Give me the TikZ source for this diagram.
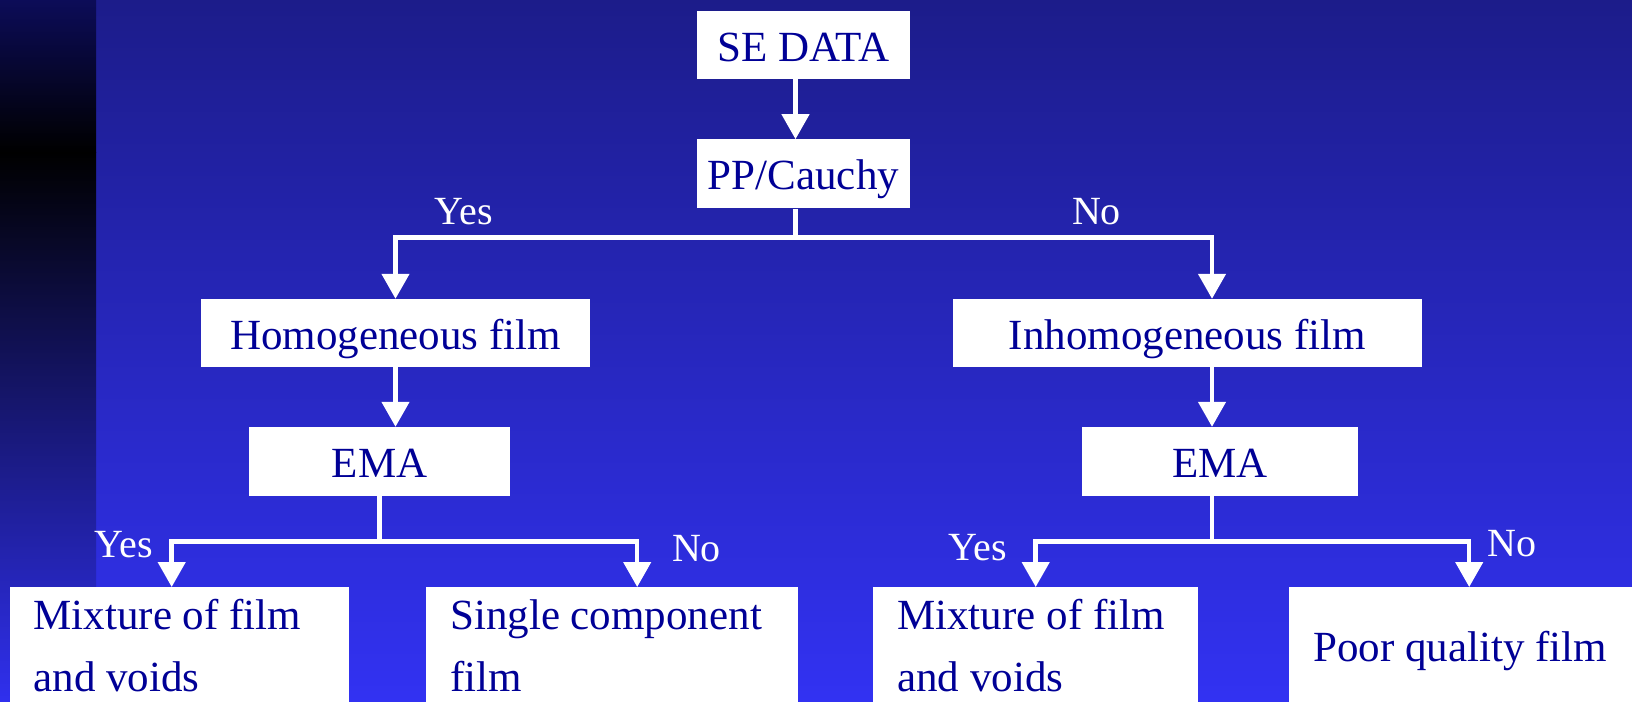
\documentclass[tikz,border=0pt]{standalone}
\usepackage{fontspec}
\setmainfont{Liberation Serif}
\usetikzlibrary{
	positioning,
	arrows.meta
}
\definecolor{SlideTop}{RGB}{28,28,138}
\definecolor{SlideBottom}{RGB}{50,50,242}
\definecolor{StripTop}{RGB}{12,12,88}
\definecolor{StripBottom}{RGB}{48,48,238}
\definecolor{InkNavy}{RGB}{0,0,150}

\tikzset{
	stepbox/.style={
		fill=white,
		text=InkNavy,
		font=\fontsize{43}{50}\selectfont,
		inner sep=0pt,
		text height=32pt,
		text depth=0pt
	},
	leafbox/.style={
		fill=white,
		text=InkNavy,
		font=\fontsize{43}{62}\selectfont,
		inner xsep=24pt,
		inner ysep=0pt,
		align=flush left,
		minimum height=116pt,
		anchor=north west
	},
	wire/.style={
		draw=white,
		line width=4.5pt
	},
	flow/.style={
		wire,
		-{Triangle[width=27pt,length=25pt]}
	},
	answer/.style={
		text=white,
		font=\fontsize{40}{48}\selectfont,
		inner sep=0pt,
		anchor=base
	}
}

\begin{document}
\begin{tikzpicture}[x=1pt,y=-1pt]
	
	% slide background
	\useasboundingbox (0,0) rectangle (1632,701);
	\shade[top color=SlideTop, bottom color=SlideBottom] (0,0) rectangle (1632,701);
	\shade[top color=StripTop, bottom color=black] (0,0) rectangle (96,152);
	\shade[top color=black, bottom color=StripBottom] (0,152) rectangle (96,701);
	
	% boxes
	\node[
	stepbox,
	minimum width=213pt,
	minimum height=68pt
	] (data) at (803.5,45) {SE DATA};
	
	\node[
	stepbox,
	minimum width=213pt,
	minimum height=69pt,
	below=60pt of data
	] (cauchy) {PP/Cauchy};
	
	\node[
	stepbox,
	minimum width=389pt,
	minimum height=68pt
	] (homog) at (395.5,333) {Homogeneous film};
	
	\node[
	stepbox,
	minimum width=469pt,
	minimum height=68pt
	] (inhomog) at (1187.5,333) {Inhomogeneous film};
	
	\node[
	stepbox,
	minimum width=261pt,
	minimum height=69pt
	] (emaL) at (379.5,461.5) {EMA};
	
	\node[
	stepbox,
	minimum width=276pt,
	minimum height=69pt
	] (emaR) at (1220,461.5) {EMA};
	
	\node[
	leafbox,
	text width=291.6pt
	] (mixL) at (9.4,587) {Mixture of film\\and voids};
	
	\node[
	leafbox,
	text width=324pt
	] (single) at (426,587) {Single component\\film};
	
	\node[
	leafbox,
	text width=277pt
	] (mixR) at (873,587) {Mixture of film\\and voids};
	
	\node[
	leafbox,
	text width=312pt,
	text height=32pt,
	text depth=0pt
	] (poor) at (1289,587) {Poor quality film};
	
	% branch points
	\coordinate (forkTop) at (795.5,237.5);
	\coordinate (forkL) at (379.5,541.5);
	\coordinate (forkR) at (1212,541.5);
	\coordinate (spineR) at (1212,0);
	
	\draw[flow] ([xshift=-8pt]data.south) -- ([xshift=-8pt]cauchy.north);
	\draw[wire] ([xshift=-8pt]cauchy.south) -- (forkTop);
	\draw[flow] (forkTop) -| (homog.north);
	\draw[flow] (forkTop) -| (inhomog.north -| spineR);
	
	\draw[flow] (homog.south) -- (homog.south |- emaL.north);
	\draw[flow] (inhomog.south -| spineR) -- (emaR.north -| spineR);
	
	\draw[wire] (emaL.south) -- (forkL);
	\draw[flow] (forkL) -| ([xshift=-7.7pt]mixL.north);
	\draw[flow] (forkL) -| ([xshift=25pt]single.north);
	
	\draw[wire] (emaR.south -| spineR) -- (forkR);
	\draw[flow] (forkR) -| (mixR.north);
	\draw[flow] (forkR) -| (poor.north);
	
	% yes / no labels
	\node[answer] (yesTop) at (463.5,224) {Yes};
	\node[answer] (noTop) at (1096.5,224) {No};
	\node[answer] (yesL) at (123.5,557) {Yes};
	\node[answer] (noL) at (696.5,561) {No};
	\node[answer] (yesR) at (977.5,560) {Yes};
	\node[answer] (noR) at (1512,556) {No};
	
\end{tikzpicture}
\end{document}
